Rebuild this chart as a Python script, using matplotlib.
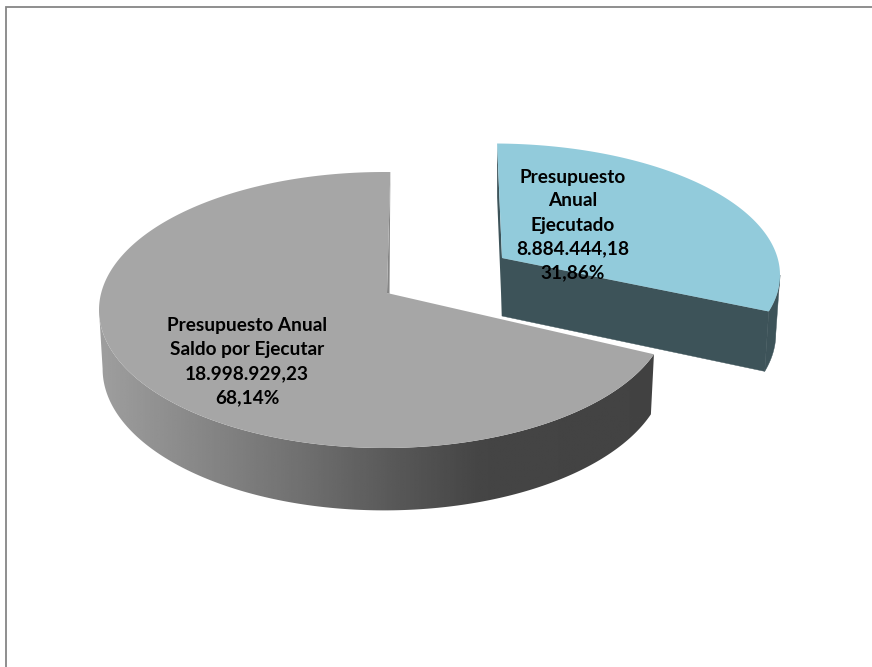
import numpy as np
import matplotlib
matplotlib.use("Agg")
import matplotlib.pyplot as plt
from matplotlib.patches import Polygon

# values
slice_names = ["Presupuesto Anual\nEjecutado", "Presupuesto Anual\nSaldo por Ejecutar"]
slice_values = [8884444.18, 18998929.23]
value_labels = ["8.884.444,18", "18.998.929,23"]
percent_labels = ["31,86%", "68,14%"]

plt.rcParams["font.family"] = ["Lato", "DejaVu Sans"]

fractions = np.array(slice_values) / sum(slice_values)
blue_sweep = 360 * fractions[0]
gray_sweep = 360 * fractions[1]
GRAY_START = 89.2
BLUE_START = 91.0


def make_projection(cx, cy, a, b, apex):
    # circle -> ellipse, with the pie centre moved to apex (perspective)
    px = (apex[0] - cx) / a
    py = (cy - apex[1]) / b
    p = np.hypot(px, py)
    ex, ey = px / p, py / p

    def project(phi_deg):
        phi = np.radians(phi_deg)
        u, v = np.cos(phi), np.sin(phi)
        par = u * ex + v * ey
        perp = -u * ey + v * ex
        w = 1 + p * par
        par2 = (par + p) / w
        perp2 = perp * np.sqrt(1 - p ** 2) / w
        x = par2 * ex - perp2 * ey
        y = par2 * ey + perp2 * ex
        return cx + a * x, cy - b * y

    return project


def extrude(x, y, vx, shrink, d0, y0, k):
    return vx + (x - vx) * shrink, y + d0 + k * (y - y0)


fig = plt.figure(figsize=(8.72, 6.67), dpi=100)
ax = fig.add_axes([0, 0, 1, 1])
ax.axis("off")

# chart frame, runs off the right and bottom edge
ax.plot([6, 6, 880], [680, 7, 7], color="#868686", lw=1.3, solid_joinstyle="miter")

# gray slice
gray_apex = (387, 293)
gray_proj = make_projection(384, 310, 285, 138, gray_apex)
gray_phi = np.linspace(GRAY_START, GRAY_START + gray_sweep, 400)
gx, gy = gray_proj(gray_phi)
gx2, gy2 = extrude(gx, gy, 400, 0.988, 60, 353, 0.025)

# side wall: horizontal gradient clipped to the visible band
first = np.argmin(gx)
band = np.vstack([np.column_stack([gx[first:], gy[first:]]),
                  np.column_stack([gx2[first:], gy2[first:]])[::-1]])
grad_x = np.linspace(90, 665, 300)
stop_x = [100, 200, 300, 390, 480, 660]
stop_level = [0.62, 0.53, 0.44, 0.35, 0.27, 0.26]
grad = np.interp(grad_x, stop_x, stop_level)[None, :]
im = ax.imshow(grad, extent=[90, 665, 530, 300], cmap="gray", vmin=0, vmax=1,
               aspect="auto", interpolation="bilinear", zorder=2)
clip = Polygon(band, transform=ax.transData, facecolor="none", edgecolor="none")
ax.add_patch(clip)
im.set_clip_path(clip)

ax.add_patch(Polygon([(gx[0], gy[0]), (gray_apex[0] + 2.5, gray_apex[1] + 1), gray_apex],
                     facecolor="#858585", edgecolor="none", zorder=2))
ax.add_patch(Polygon(np.vstack([[gray_apex], np.column_stack([gx, gy])]),
                     facecolor="#a6a6a6", edgecolor="none", zorder=3))

# blue slice, pulled out of the pie
blue_apex = (502, 258)
blue_proj = make_projection(493, 275, 287, 131.5, blue_apex)
blue_phi = np.linspace(BLUE_START - blue_sweep, BLUE_START, 200)
bx, by = blue_proj(blue_phi)
bx2, by2 = extrude(bx, by, 500, 0.985, 58, 258, 0.036)
ax2, ay2 = extrude(blue_apex[0], blue_apex[1], 500, 0.985, 58, 258, 0.036)

wall = "#3d5359"
ax.add_patch(Polygon([blue_apex, (bx[0], by[0]), (bx2[0], by2[0]), (ax2, ay2)],
                     facecolor=wall, edgecolor=wall, lw=0.3, zorder=4))
ax.add_patch(Polygon([blue_apex, (bx[-1], by[-1]), (bx2[-1], by2[-1]), (ax2, ay2)],
                     facecolor=wall, edgecolor="none", zorder=4))
last = np.argmax(bx) + 1
ax.add_patch(Polygon(np.vstack([np.column_stack([bx[:last], by[:last]]),
                                np.column_stack([bx2[:last], by2[:last]])[::-1]]),
                     facecolor=wall, edgecolor=wall, lw=0.3, zorder=4))
ax.add_patch(Polygon(np.vstack([[blue_apex], np.column_stack([bx, by])]),
                     facecolor="#92cbdb", edgecolor="none", zorder=5))

# data labels
blue_name = slice_names[0].replace("Anual\n", "\nAnual\n").replace("Presupuesto ", "Presupuesto")
ax.text(572.5, 225, f"{blue_name}\n{value_labels[0]}\n{percent_labels[0]}", ha="center", va="center",
        multialignment="center", fontsize=13.7, fontweight="bold", color="black", linespacing=1.5, zorder=6)
ax.text(247, 361.5, f"{slice_names[1]}\n{value_labels[1]}\n{percent_labels[1]}", ha="center", va="center",
        multialignment="center", fontsize=13.7, fontweight="bold", color="black", linespacing=1.5, zorder=6)

ax.set_xlim(0, 872)
ax.set_ylim(667, 0)

fig.savefig("out.png", dpi=100)
plt.close(fig)
